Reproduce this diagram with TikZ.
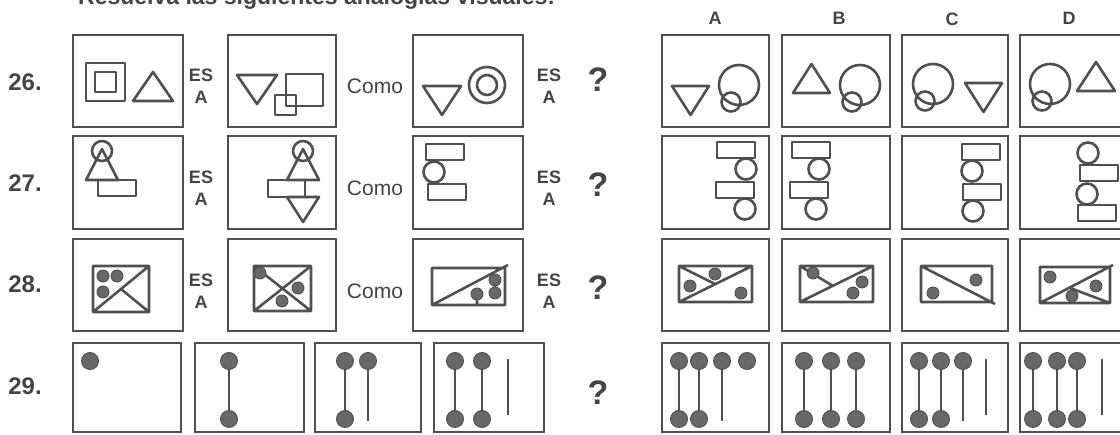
\documentclass[tikz,border=0pt]{standalone}
\usepackage{fontspec}
\setmainfont{Liberation Sans}
\usepackage{xcolor}
\definecolor{ink}{HTML}{505050}
\definecolor{dotfill}{HTML}{686868}
\definecolor{txt}{HTML}{444444}

\tikzset{
  frame/.style={draw=ink, line width=2.9pt},
  fig/.style={draw=ink, line width=2.6pt, line join=round},
  blob/.style={fill=dotfill, draw=ink, line width=0.9pt},
  num/.style={font=\fontsize{24}{24}\selectfont\bfseries, text=txt},
  esa/.style={font=\fontsize{18}{22}\selectfont\bfseries, text=txt, align=center, inner sep=0pt},
  como/.style={font=\fontsize{21}{21}\selectfont, text=txt},
  quest/.style={font=\fontsize{34}{34}\selectfont\bfseries, text=txt},
  colname/.style={font=\fontsize{18}{18}\selectfont\bfseries, text=txt}
}

\newcommand{\panel}[4]{\draw[frame] (#1,#2) rectangle (#3,#4);}
\newcommand{\triup}[3]{\draw[fig] (#1,#2) -- ++(#3,0) -- ++(-#3/2,-29) -- cycle;}
\newcommand{\tridown}[3]{\draw[fig] (#1,#2) -- ++(#3,0) -- ++(-#3/2,29) -- cycle;}
\newcommand{\rings}[2]{\draw[fig] (#1,#2) circle (20pt) (#1-8,#2+17) circle (9.5pt);}
\newcommand{\slab}[2]{\draw[fig] (#1,#2) rectangle ++(38,16);}
\newcommand{\ball}[2]{\draw[fig] (#1,#2) circle (10.5pt);}
\newcommand{\head}[1]{\path[blob] (#1,361) circle (8.5pt);}
\newcommand{\dumb}[1]{\draw[fig] (#1,361) -- (#1,419); \path[blob] (#1,361) circle (8.5pt) (#1,419) circle (8.5pt);}
\newcommand{\stick}[1]{\draw[fig] (#1,361) -- (#1,421); \head{#1}}
\newcommand{\rod}[1]{\draw[fig] (#1,359) -- (#1,415);}

\begin{document}
\begin{tikzpicture}[x=1pt,y=-1pt]
  \useasboundingbox (0,0) rectangle (1120,435);
  \clip (0,0) rectangle (1120,435);

  \node[anchor=base west, font=\fontsize{23}{23}\selectfont\bfseries, text=txt, inner sep=0pt] (title) at (78,5)
    {Resuelva las siguientes analogías visuales:};

  \node[colname] (colA) at (715,18) {A};
  \node[colname] (colB) at (839,18) {B};
  \node[colname] (colC) at (952,19) {C};
  \node[colname] (colD) at (1069,18) {D};

  \node[num] (n26) at (25,82) {26.};
  \node[num] (n27) at (25,183) {27.};
  \node[num] (n28) at (25,284) {28.};
  \node[num] (n29) at (25,386) {29.};

  \foreach \r/\yc in {26/86,27/188,28/291}{
    \node[esa] (es\r a) at (201,\yc) {ES\\A};
    \node[como] (como\r) at (375,\yc) {Como};
    \node[esa] (es\r b) at (549,\yc) {ES\\A};
  }
  \node[quest] (q26) at (598,80) {?};
  \node[quest] (q27) at (598,185) {?};
  \node[quest] (q28) at (598,288) {?};
  \node[quest] (q29) at (598,393) {?};

  \foreach \ya/\yb in {35/127,136/229,239/331}{
    \panel{73}{\ya}{183}{\yb}
    \panel{228}{\ya}{336}{\yb}
    \panel{413}{\ya}{523}{\yb}
    \panel{662}{\ya}{769}{\yb}
    \panel{782}{\ya}{890}{\yb}
    \panel{902}{\ya}{1008}{\yb}
    \panel{1020}{\ya}{1128}{\yb}
  }
  \panel{73}{343}{181}{432}
  \panel{195}{343}{304}{432}
  \panel{315}{343}{421}{432}
  \panel{434}{343}{544}{432}
  \panel{662}{343}{769}{432}
  \panel{782}{343}{890}{432}
  \panel{902}{343}{1008}{432}
  \panel{1020}{343}{1128}{432}

  % 26
  \draw[fig] (86,63) rectangle (125,101) (95,72) rectangle (116,92);
  \triup{133}{101}{40}
  \tridown{237}{75}{40}
  \draw[fig] (286,74) rectangle (323,106) (275,95) rectangle (296,115);
  \tridown{423}{86}{38}
  \draw[fig] (487,85) circle (18pt) (487,85) circle (10pt);
  \tridown{672}{86}{37}
  \rings{739}{85}
  \triup{793}{93}{37}
  \rings{860}{85}
  \rings{933}{84}
  \tridown{965}{83}{37}
  \rings{1050}{84}
  \triup{1077}{91}{38}

  % 27
  \draw[fig] (102,151) circle (10pt);
  \draw[fig] (86,180) -- (118,180) -- (102,149) -- cycle;
  \draw[fig] (98,180) rectangle (136,196);
  \draw[fig] (303,151) circle (10pt);
  \draw[fig] (287,180) -- (319,180) -- (303,149) -- cycle;
  \draw[fig] (268,180) rectangle (305,197);
  \draw[fig] (287,197) -- (319,197) -- (303,222) -- cycle;
  \slab{426}{144} \ball{434}{172} \slab{428}{184}
  \slab{717}{142} \ball{746}{169} \slab{716}{182} \ball{745}{209}
  \slab{792}{142} \ball{819}{169} \slab{790}{182} \ball{816}{209}
  \slab{962}{144} \ball{972}{171} \slab{963}{184} \ball{973}{211}
  \ball{1088}{153} \slab{1080}{165} \ball{1087}{194} \slab{1078}{205}

  % 28
  \draw[fig] (93,266) rectangle (149,312) (93,312) -- (149,266) (121,289) -- (149,312);
  \path[blob] (103,276) circle (6pt) (117,276) circle (6pt) (103,292) circle (6pt);
  \draw[fig] (254,266) rectangle (311,311) (254,311) -- (311,266) (254,266) -- (311,311);
  \path[blob] (260,273) circle (6pt) (298,288) circle (6pt) (282,301) circle (6pt);
  \draw[fig] (432,268) rectangle (505,305) (432,305) -- (508,265) (477,294) -- (477,305);
  \path[blob] (495,280) circle (6pt) (495,293) circle (6pt) (477,294) circle (6pt);
  \draw[fig] (679,266) rectangle (752,302) (679,302) -- (752,266) (679,266) -- (715,284);
  \path[blob] (690,286) circle (6pt) (715,274) circle (6pt) (741,293) circle (6pt);
  \draw[fig] (800,266) rectangle (873,302) (800,302) -- (873,266) (800,266) -- (833,286);
  \path[blob] (813,273) circle (6pt) (862,282) circle (6pt) (853,293) circle (6pt);
  \draw[fig] (921,266) rectangle (992,302) (921,266) -- (995,304);
  \path[blob] (933,293) circle (6pt) (976,280) circle (6pt);
  \draw[fig] (1040,267) rectangle (1110,303) (1040,303) -- (1113,265) (1070,288) -- (1110,303);
  \path[blob] (1050,277) circle (6pt) (1096,286) circle (6pt) (1072,296) circle (6pt);

  % 29
  \head{90}
  \dumb{229}
  \dumb{345} \stick{368}
  \dumb{455} \dumb{482} \rod{508}
  \dumb{679} \dumb{699} \stick{722} \head{747}
  \dumb{804} \dumb{831} \dumb{856}
  \dumb{919} \dumb{941} \stick{963} \rod{986}
  \dumb{1033} \dumb{1057} \dumb{1077} \rod{1102}
\end{tikzpicture}
\end{document}
